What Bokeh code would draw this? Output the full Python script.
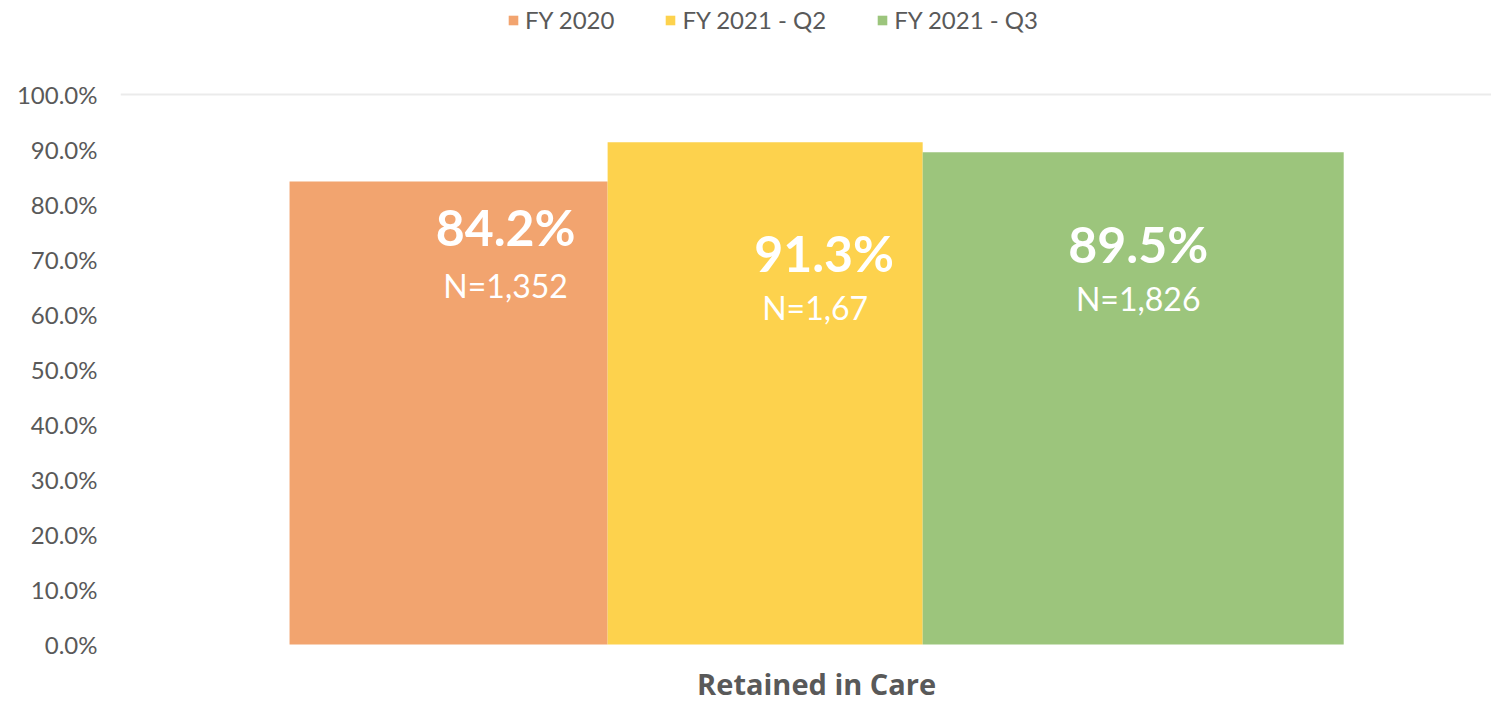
from bokeh.plotting import figure
from bokeh.models import ColumnDataSource, Range1d, FixedTicker, PrintfTickFormatter
from bokeh.core.properties import value
from bokeh.embed import file_html
from bokeh.resources import INLINE

# ---- data ----
series = ["FY 2020", "FY 2021 - Q2", "FY 2021 - Q3"]
retained_pct = [84.2, 91.3, 89.5]
n_counts = ["1,352", "1,67", "1,826"]
category = "Retained in Care"
y_ticks = [0, 10, 20, 30, 40, 50, 60, 70, 80, 90, 100]

# ---- styles / layout ----
colors = ["#F2A46F", "#FDD24D", "#9CC57C"]
group_start = 0.1233
bar_widths = [0.2320, 0.2298, 0.3071]
lefts, rights = [], []
pos = group_start
for w in bar_widths:
    lefts.append(pos)
    pos += w
    rights.append(pos)
centers = [(l + r) / 2 for l, r in zip(lefts, rights)]
pct_dx = [57, 59, 5]
pct_dy = [46, 111, 92]
n_dx = [57, 50, 5]
n_dy = [104, 165, 146]

FONT = "Lato"
GRAY = "#595959"

src = ColumnDataSource(dict(
    left=lefts, right=rights, center=centers, top=retained_pct,
    series=series, color=colors,
    pct=[f"{v:.1f}%" for v in retained_pct],
    ntxt=[f"N={n}" for n in n_counts],
    pct_dx=pct_dx, pct_dy=pct_dy, n_dx=n_dx, n_dy=n_dy,
))

p = figure(width=1491, height=704, output_backend="svg", toolbar_location=None,
           x_range=Range1d(0, 1), y_range=Range1d(-10.909, 117.091),
           min_border_left=120, min_border_right=0, min_border_top=0, min_border_bottom=0)
p.outline_line_color = None
p.background_fill_color = "white"

p.quad(left="left", right="right", bottom=0, top="top", fill_color="color",
       line_color=None, source=src, legend_field="series")

p.text(x="center", y="top", text="pct", x_offset="pct_dx", y_offset="pct_dy", source=src,
       text_align="center", text_baseline="middle", text_color="white",
       text_font=value(FONT), text_font_style="bold", text_font_size="50px")
p.text(x="center", y="top", text="ntxt", x_offset="n_dx", y_offset="n_dy", source=src,
       text_align="center", text_baseline="middle", text_color="white",
       text_font=value(FONT), text_font_size="32px")

cat_src = ColumnDataSource(dict(x=[(lefts[0] + rights[-1]) / 2], y=[0], t=[category]))
p.text(x="x", y="y", text="t", source=cat_src, y_offset=39,
       text_align="center", text_baseline="middle", text_color=GRAY,
       text_font=value("Open Sans"), text_font_style="bold", text_font_size="29px")

p.xaxis.visible = False
p.xgrid.visible = False
p.ygrid.ticker = FixedTicker(ticks=[100])
p.ygrid.grid_line_color = "#EBEBEB"
p.ygrid.grid_line_width = 2

ya = p.yaxis[0]
ya.ticker = FixedTicker(ticks=y_ticks)
ya.formatter = PrintfTickFormatter(format="%.1f%%")
ya.axis_line_color = None
ya.major_tick_line_color = None
ya.minor_tick_line_color = None
ya.major_tick_out = 0
ya.major_label_standoff = 23
ya.major_label_text_font = FONT
ya.major_label_text_font_size = "24px"
ya.major_label_text_color = GRAY

lg = p.legend[0]
lg.location = (387, 670)
lg.orientation = "horizontal"
lg.border_line_color = None
lg.background_fill_alpha = 0
lg.margin = 0
lg.padding = 0
lg.spacing = 50
lg.glyph_width = 12
lg.glyph_height = 12
lg.label_standoff = 6
lg.label_text_font = FONT
lg.label_text_font_size = "24px"
lg.label_text_color = GRAY

open("out.html", "w").write(file_html(p, INLINE))
